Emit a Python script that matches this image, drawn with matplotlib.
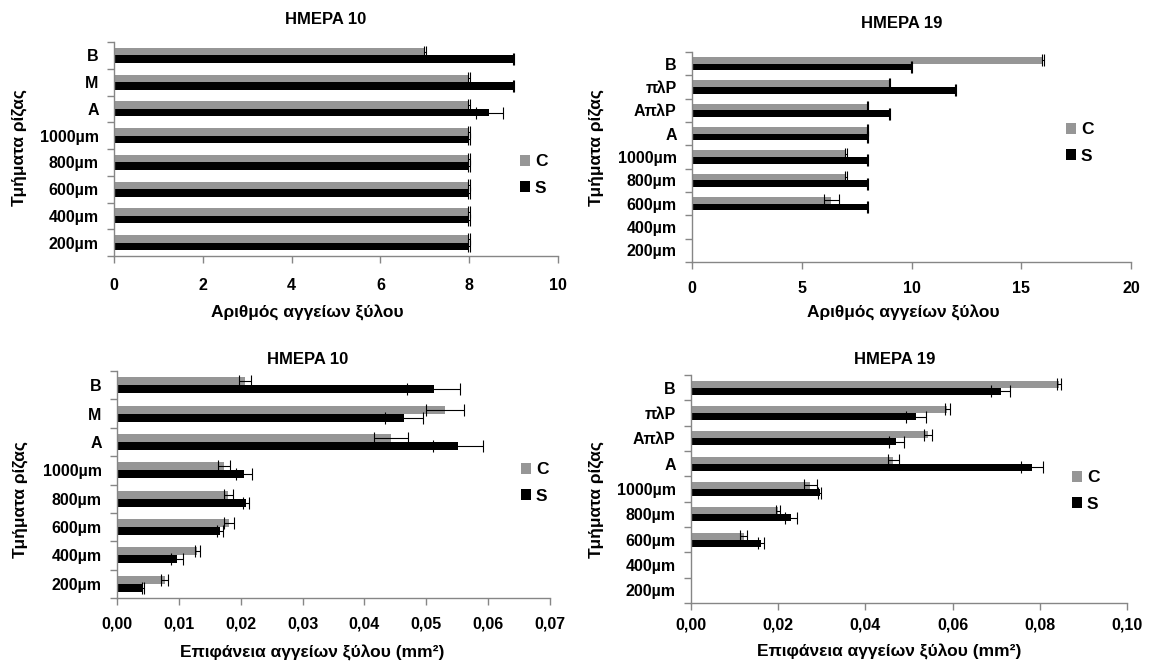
import numpy as np
import matplotlib
matplotlib.use("Agg")
import matplotlib.pyplot as plt
from matplotlib.ticker import FixedLocator, MultipleLocator, FuncFormatter, NullFormatter

plt.rcParams['font.family'] = ['Liberation Sans', 'DejaVu Sans']
plt.rcParams['font.weight'] = 'bold'

# Root segments (bottom to top)
cats_day10 = ['200µm', '400µm', '600µm', '800µm', '1000µm', 'Α', 'Μ', 'Β']
cats_day19 = ['200µm', '400µm', '600µm', '800µm', '1000µm', 'Α', 'ΑπλΡ', 'πλΡ', 'Β']

# Number of xylem vessels, day 10
count10_C = [8, 8, 8, 8, 8, 8, 8, 7]
count10_C_err = [0.02, 0.02, 0.02, 0.02, 0.02, 0.02, 0.02, 0.02]
count10_S = [8, 8, 8, 8, 8, 8.45, 9, 9]
count10_S_err = [0.02, 0.02, 0.02, 0.02, 0.02, 0.3, 0.02, 0.02]

# Number of xylem vessels, day 19
count19_C = [np.nan, np.nan, 6.35, 7, 7, 8, 8, 9, 16]
count19_C_err = [np.nan, np.nan, 0.33, 0.04, 0.04, 0.04, 0.04, 0.04, 0.04]
count19_S = [np.nan, np.nan, 8, 8, 8, 8, 9, 12, 10]
count19_S_err = [np.nan, np.nan, 0.04, 0.04, 0.04, 0.04, 0.04, 0.04, 0.04]

# Xylem vessel area (mm2), day 10
area10_C = [0.0077, 0.0130, 0.0181, 0.0180, 0.0173, 0.0443, 0.0530, 0.0207]
area10_C_err = [0.0006, 0.0004, 0.0008, 0.0007, 0.0009, 0.0027, 0.0031, 0.0010]
area10_S = [0.0042, 0.0097, 0.0166, 0.0208, 0.0206, 0.0551, 0.0464, 0.0512]
area10_S_err = [0.0001, 0.0009, 0.0005, 0.0005, 0.0013, 0.0040, 0.0030, 0.0043]

# Xylem vessel area (mm2), day 19
area19_C = [np.nan, np.nan, 0.0121, 0.0199, 0.0274, 0.0464, 0.0544, 0.0588, 0.0844]
area19_C_err = [np.nan, np.nan, 0.0008, 0.0004, 0.0015, 0.0012, 0.0009, 0.0005, 0.0004]
area19_S = [np.nan, np.nan, 0.0161, 0.0230, 0.0295, 0.0783, 0.0471, 0.0517, 0.0710]
area19_S_err = [np.nan, np.nan, 0.0007, 0.0014, 0.0003, 0.0025, 0.0017, 0.0023, 0.0021]

W, H = 1152, 668
GRAY = '#969696'
AXIS = '#868686'
TICK_FS = 11.5
LABEL_FS = 12.5
TITLE_FS = 12

fig = plt.figure(figsize=(W / 100, H / 100), dpi=100)


def add_axes_px(x0, x1, top, bottom):
    return fig.add_axes([x0 / W, 1 - bottom / H, (x1 - x0) / W, (bottom - top) / H])


def comma_fmt(v, pos):
    return f"{v:.2f}".replace('.', ',')


def panel(box, cats, c_vals, c_err, s_vals, s_err, xmax, xstep, comma, xpad,
          title, title_xy, xlabel, xlabel_xy, ylabel_xy, legend_xy):
    ax = add_axes_px(*box)
    n = len(cats)
    y = np.arange(n)
    c = np.array(c_vals, float)
    ce = np.array(c_err, float)
    s = np.array(s_vals, float)
    se = np.array(s_err, float)
    h, off = 0.28, 0.14
    mc = np.isfinite(c)
    ms = np.isfinite(s)
    bc = ax.barh(y[mc] + off, c[mc], height=h, color=GRAY, zorder=2)
    bs = ax.barh(y[ms] - off, s[ms], height=h, color='black', zorder=2)
    ax.errorbar(c[mc], y[mc] + off, xerr=ce[mc], fmt='none', ecolor='black',
                elinewidth=0.8, capsize=4.5, capthick=0.8, zorder=3)
    ax.errorbar(s[ms], y[ms] - off, xerr=se[ms], fmt='none', ecolor='black',
                elinewidth=0.8, capsize=4.5, capthick=0.8, zorder=3)

    ax.set_xlim(0, xmax)
    ax.set_ylim(-0.5, n - 0.5)
    for side in ('top', 'right'):
        ax.spines[side].set_visible(False)
    for side in ('left', 'bottom'):
        ax.spines[side].set_color(AXIS)
        ax.spines[side].set_linewidth(1.0)

    ax.yaxis.set_major_locator(FixedLocator(np.arange(-0.5, n, 1.0)))
    ax.yaxis.set_major_formatter(NullFormatter())
    ax.yaxis.set_minor_locator(FixedLocator(y))
    ax.set_yticklabels(cats, minor=True)
    ax.tick_params(axis='y', which='major', length=5, width=1.0, color=AXIS, direction='out')
    ax.tick_params(axis='y', which='minor', length=0, pad=11, labelsize=TICK_FS)

    ax.xaxis.set_major_locator(MultipleLocator(xstep))
    if comma:
        ax.xaxis.set_major_formatter(FuncFormatter(comma_fmt))
    ax.tick_params(axis='x', which='major', length=5, width=1.0, color=AXIS,
                   direction='out', labelsize=TICK_FS, pad=xpad)
    for lab in ax.get_xticklabels() + ax.get_yticklabels(minor=True):
        lab.set_fontweight('bold')

    fig.text(title_xy[0] / W, 1 - title_xy[1] / H, title, ha='center', va='center',
             fontsize=TITLE_FS, fontweight='bold')
    fig.text(xlabel_xy[0] / W, 1 - xlabel_xy[1] / H, xlabel, ha='center', va='center',
             fontsize=LABEL_FS, fontweight='bold')
    fig.text(ylabel_xy[0] / W, 1 - ylabel_xy[1] / H, 'Τμήματα ρίζας', ha='center',
             va='center', rotation=90, fontsize=LABEL_FS, fontweight='bold')
    fig.legend([bc, bs], ['C', 'S'], loc='center left',
               bbox_to_anchor=(legend_xy[0] / W, 1 - legend_xy[1] / H),
               frameon=False, fontsize=LABEL_FS, handlelength=0.6, handleheight=0.6,
               handletextpad=0.25, labelspacing=0.65, borderpad=0, borderaxespad=0)
    return ax


panel((114, 558, 42, 256), cats_day10, count10_C, count10_C_err, count10_S, count10_S_err,
      10, 2, False, 11, 'HMEPA 10', (326, 19), 'Αριθμός αγγείων ξύλου', (307, 313),
      (19, 148), (520, 175))
panel((692, 1131, 52, 262), cats_day19, count19_C, count19_C_err, count19_S, count19_S_err,
      20, 5, False, 9, 'HMEPA 19', (902, 24), 'Αριθμός αγγείων ξύλου', (903, 313),
      (596, 148), (1066, 143))
panel((117, 550, 371, 598), cats_day10, area10_C, area10_C_err, area10_S, area10_S_err,
      0.07, 0.01, True, 8.5, 'HMEPA 10', (308, 359), 'Επιφάνεια αγγείων ξύλου (mm²)', (312, 653),
      (20, 500), (521, 483))
panel((691, 1127, 375, 603), cats_day19, area19_C, area19_C_err, area19_S, area19_S_err,
      0.10, 0.02, True, 5.5, 'HMEPA 19', (895, 359), 'Επιφάνεια αγγείων ξύλου (mm²)', (889, 652),
      (596, 500), (1072, 491))

fig.savefig('out.png', dpi=100)
